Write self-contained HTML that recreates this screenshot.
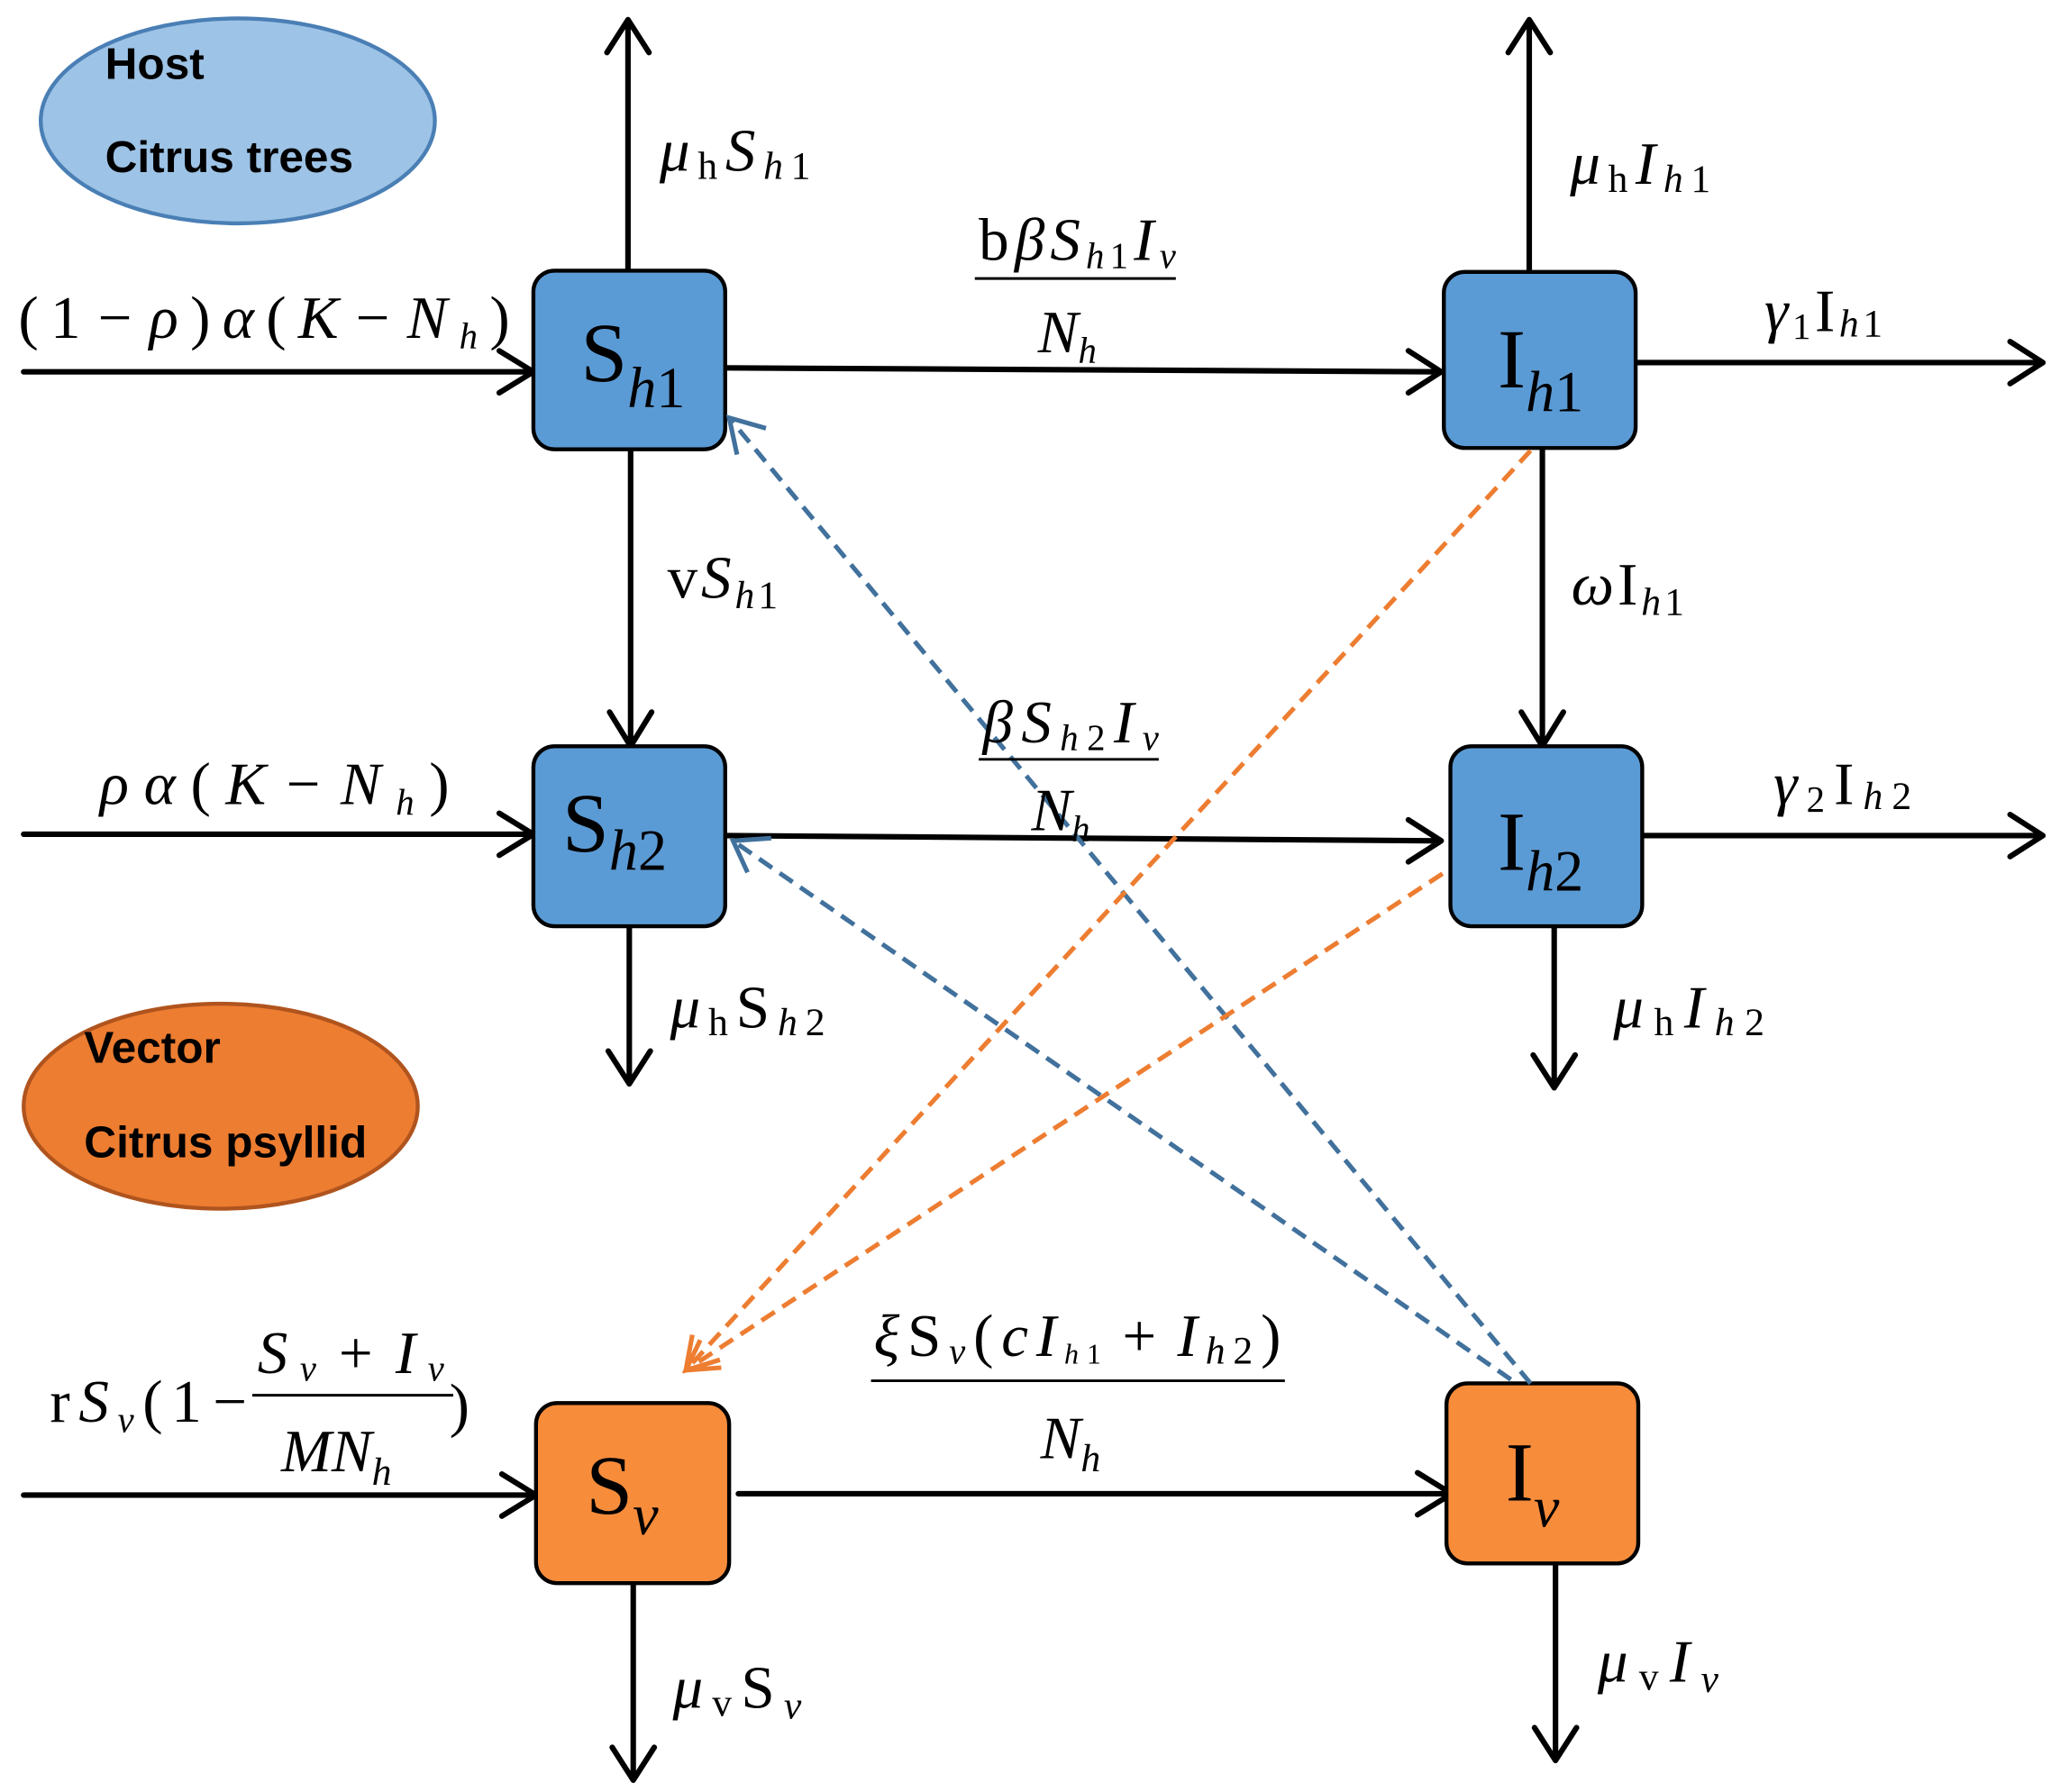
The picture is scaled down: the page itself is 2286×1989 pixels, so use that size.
<!DOCTYPE html>
<html><head><meta charset="utf-8"><style>
html,body{margin:0;padding:0;background:#fff}
svg{display:block}
text{font-family:"Liberation Serif",serif;fill:#000}
.s{font-family:"Liberation Sans",sans-serif;font-weight:bold}
</style></head><body>
<svg width="2286" height="1989" viewBox="0 0 1568 1364" preserveAspectRatio="none" xmlns="http://www.w3.org/2000/svg">
<ellipse cx="181" cy="92" rx="150" ry="78" fill="#9dc3e6" stroke="#4a7fb5" stroke-width="3"/>
<text class="s" x="80" y="60" font-size="34">Host</text>
<text class="s" x="80" y="131" font-size="34">Citrus trees</text>
<ellipse cx="168" cy="842" rx="150" ry="78" fill="#ed7d31" stroke="#b0541e" stroke-width="3"/>
<text class="s" x="64" y="809" font-size="34">Vector</text>
<text class="s" x="64" y="881" font-size="34">Citrus psyllid</text>

<g stroke="#000" stroke-width="4.2" fill="none" stroke-linecap="round" stroke-linejoin="round">
<path d="M478 206V15M462 40L478 15L494 40"/>
<path d="M18 283H406M380 267L406 283L380 299"/>
<path d="M552 280L1097 283M1072 267L1097 283L1072 299"/>
<path d="M1164 207V15M1148 40L1164 15L1180 40"/>
<path d="M1245 276H1555M1530 260L1555 276L1530 292"/>
<path d="M480 342V568M464 542L480 568L496 542"/>
<path d="M1174 341V568M1158 542L1174 568L1190 542"/>
<path d="M18 635H406M380 619L406 635L380 651"/>
<path d="M552 636L1097 640M1072 624L1097 640L1072 656"/>
<path d="M1250 636H1555M1530 620L1555 636L1530 652"/>
<path d="M479 705V825M463 800L479 825L495 800"/>
<path d="M1183 705V828M1167 803L1183 828L1199 803"/>
<path d="M18 1138H408M382 1122L408 1138L382 1154"/>
<path d="M562 1137H1105M1079 1121L1105 1137L1079 1153"/>
<path d="M482 1205V1355M466 1330L482 1355L498 1330"/>
<path d="M1184 1190V1340M1168 1315L1184 1340L1200 1315"/>
</g>

<rect x="406" y="206" width="146" height="136" rx="16" fill="#5b9bd5" stroke="#000" stroke-width="3"/>
<rect x="1099" y="207" width="146" height="134" rx="16" fill="#5b9bd5" stroke="#000" stroke-width="3"/>
<rect x="406" y="568" width="146" height="137" rx="16" fill="#5b9bd5" stroke="#000" stroke-width="3"/>
<rect x="1104" y="568" width="146" height="137" rx="16" fill="#5b9bd5" stroke="#000" stroke-width="3"/>
<rect x="408" y="1068" width="147" height="137" rx="16" fill="#f78c3b" stroke="#000" stroke-width="3"/>
<rect x="1101" y="1053" width="146" height="137" rx="16" fill="#f78c3b" stroke="#000" stroke-width="3"/>

<g fill="none" stroke-width="3.5" stroke-dasharray="12 7">
<path d="M1165 1053L555 318" stroke="#41719c"/>
<path d="M1150 1050L558 640" stroke="#41719c"/>
<path d="M1165 343L522 1043" stroke="#ed7d31"/>
<path d="M1098 665L522 1043" stroke="#ed7d31"/>
</g>
<g fill="none" stroke-width="3.5">
<path d="M561 346L555 318L583 326" stroke="#41719c"/>
<path d="M569 664L558 640L587 638" stroke="#41719c"/>
<path d="M527 1016L522 1043L548 1035" stroke="#ed7d31"/>
<path d="M533 1020L522 1043L549 1041" stroke="#ed7d31"/>
</g>

<g font-size="64">
<text x="442" y="290">S<tspan font-style="italic" font-size="44" dy="20">h</tspan><tspan font-size="44">1</tspan></text>
<text x="1140" y="295">I<tspan font-style="italic" font-size="44" dy="18">h</tspan><tspan font-size="44">1</tspan></text>
<text x="428" y="648">S<tspan font-style="italic" font-size="44" dy="14">h</tspan><tspan font-size="44">2</tspan></text>
<text x="1140" y="662">I<tspan font-style="italic" font-size="44" dy="16">h</tspan><tspan font-size="44">2</tspan></text>
<text x="446" y="1152">S<tspan font-style="italic" font-size="44" dy="16">v</tspan></text>
<text x="1146" y="1142">I<tspan font-style="italic" font-size="44" dy="20">v</tspan></text>
</g>

<g font-size="46">
<text x="502" y="130" textLength="115" lengthAdjust="spacing"><tspan font-style="italic">μ</tspan><tspan font-size="30" dy="6">h</tspan><tspan font-style="italic" dy="-6">S</tspan><tspan font-style="italic" font-size="30" dy="6">h</tspan><tspan font-size="30">1</tspan></text>
<text x="1195" y="140" textLength="107" lengthAdjust="spacing"><tspan font-style="italic">μ</tspan><tspan font-size="30" dy="6">h</tspan><tspan font-style="italic" dy="-6">I</tspan><tspan font-style="italic" font-size="30" dy="6">h</tspan><tspan font-size="30">1</tspan></text>
<text x="745" y="198" textLength="150" lengthAdjust="spacing">b<tspan font-style="italic">βS</tspan><tspan font-style="italic" font-size="28" dy="6">h</tspan><tspan font-size="28">1</tspan><tspan font-style="italic" dy="-6">I</tspan><tspan font-style="italic" font-size="28" dy="6">v</tspan></text>
<line x1="742" y1="212" x2="895" y2="212" stroke="#000" stroke-width="2"/>
<text x="790" y="268"><tspan font-style="italic">N</tspan><tspan font-style="italic" font-size="28" dy="8">h</tspan></text>
<text x="14" y="257" textLength="374" lengthAdjust="spacing">(1<tspan dx="4">−</tspan><tspan font-style="italic" dx="4">ρ</tspan>)<tspan font-style="italic">α</tspan>(<tspan font-style="italic">K</tspan><tspan dx="4">−</tspan><tspan font-style="italic" dx="4">N</tspan><tspan font-style="italic" font-size="28" dy="8">h</tspan><tspan dy="-8">)</tspan></text>
<text x="1343" y="252" textLength="90" lengthAdjust="spacing"><tspan font-style="italic">γ</tspan><tspan font-size="28" dy="6">1</tspan><tspan dy="-6">I</tspan><tspan font-style="italic" font-size="30" dy="4">h</tspan><tspan font-size="30">1</tspan></text>
<text x="508" y="455" textLength="84" lengthAdjust="spacing">v<tspan font-style="italic">S</tspan><tspan font-style="italic" font-size="30" dy="8">h</tspan><tspan font-size="30">1</tspan></text>
<text x="1196" y="460" textLength="86" lengthAdjust="spacing"><tspan font-style="italic">ω</tspan>I<tspan font-style="italic" font-size="30" dy="8">h</tspan><tspan font-size="30">1</tspan></text>
<text x="748" y="565" textLength="134" lengthAdjust="spacing"><tspan font-style="italic">βS</tspan><tspan font-style="italic" font-size="28" dy="6">h</tspan><tspan font-size="28">2</tspan><tspan font-style="italic" dy="-6">I</tspan><tspan font-style="italic" font-size="28" dy="6">v</tspan></text>
<line x1="745" y1="578" x2="882" y2="578" stroke="#000" stroke-width="2"/>
<text x="785" y="632"><tspan font-style="italic">N</tspan><tspan font-style="italic" font-size="28" dy="8">h</tspan></text>
<text x="76" y="612" textLength="266" lengthAdjust="spacing"><tspan font-style="italic">ρα</tspan>(<tspan font-style="italic">K</tspan><tspan dx="4">−</tspan><tspan font-style="italic" dx="4">N</tspan><tspan font-style="italic" font-size="28" dy="8">h</tspan><tspan dy="-8">)</tspan></text>
<text x="1350" y="612" textLength="105" lengthAdjust="spacing"><tspan font-style="italic">γ</tspan><tspan font-size="28" dy="6">2</tspan><tspan dy="-6">I</tspan><tspan font-style="italic" font-size="30" dy="4">h</tspan><tspan font-size="30">2</tspan></text>
<text x="510" y="782" textLength="118" lengthAdjust="spacing"><tspan font-style="italic">μ</tspan><tspan font-size="30" dy="6">h</tspan><tspan dy="-6">S</tspan><tspan font-style="italic" font-size="30" dy="6">h</tspan><tspan font-size="30">2</tspan></text>
<text x="1228" y="782" textLength="115" lengthAdjust="spacing"><tspan font-style="italic">μ</tspan><tspan font-size="30" dy="6">h</tspan><tspan font-style="italic" dy="-6">I</tspan><tspan font-style="italic" font-size="30" dy="6">h</tspan><tspan font-size="30">2</tspan></text>
<text x="665" y="1032" textLength="310" lengthAdjust="spacing"><tspan font-style="italic">ξ</tspan>S<tspan font-style="italic" font-size="28" dy="6">v</tspan><tspan dy="-6">(</tspan><tspan font-style="italic">cI</tspan><tspan font-style="italic" font-size="22" dy="6">h</tspan><tspan font-size="22">1</tspan><tspan dy="-6" dx="10">+</tspan><tspan font-style="italic" dx="10">I</tspan><tspan font-style="italic" font-size="30" dy="6">h</tspan><tspan font-size="30">2</tspan><tspan dy="-6">)</tspan></text>
<line x1="663" y1="1051" x2="978" y2="1051" stroke="#000" stroke-width="2"/>
<text x="792" y="1110"><tspan font-style="italic">N</tspan><tspan font-style="italic" font-size="30" dy="10">h</tspan></text>
<text x="38" y="1082" textLength="150" lengthAdjust="spacing">r<tspan font-style="italic">S</tspan><tspan font-style="italic" font-size="28" dy="8">v</tspan><tspan dy="-8">(1</tspan><tspan dx="2">−</tspan></text>
<text x="196" y="1045" textLength="142" lengthAdjust="spacing"><tspan font-style="italic">S</tspan><tspan font-style="italic" font-size="28" dy="6">v</tspan><tspan dy="-6" dx="8">+</tspan><tspan font-style="italic" dx="8">I</tspan><tspan font-style="italic" font-size="28" dy="6">v</tspan></text>
<line x1="192" y1="1062" x2="345" y2="1062" stroke="#000" stroke-width="2"/>
<text x="342" y="1085">)</text>
<text x="214" y="1120"><tspan font-style="italic">MN</tspan><tspan font-style="italic" font-size="30" dy="10">h</tspan></text>
<text x="512" y="1300" textLength="98" lengthAdjust="spacing"><tspan font-style="italic">μ</tspan><tspan font-size="30" dy="6">v</tspan><tspan dy="-6">S</tspan><tspan font-style="italic" font-size="30" dy="8">v</tspan></text>
<text x="1216" y="1280" textLength="92" lengthAdjust="spacing"><tspan font-style="italic">μ</tspan><tspan font-size="30" dy="6">v</tspan><tspan font-style="italic" dy="-6">I</tspan><tspan font-style="italic" font-size="30" dy="8">v</tspan></text>
</g>
</svg>
</body></html>
